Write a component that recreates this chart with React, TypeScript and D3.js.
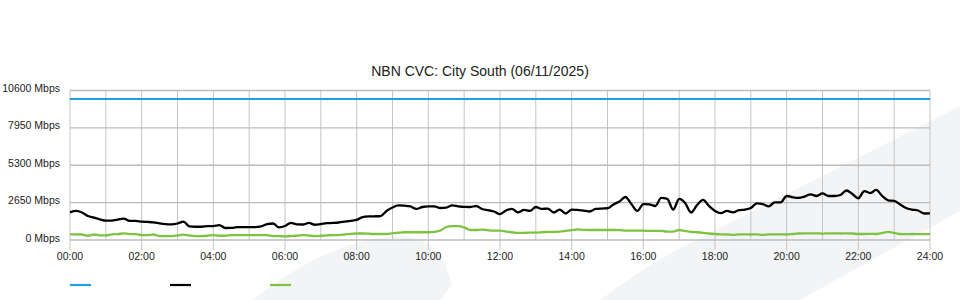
import React from "react";
import * as d3 from "d3";

// 10-minute samples, 00:00 .. 24:00
const capacity: number[] = new Array(145).fill(10000);

const traffic: number[] = [
  1960, 2060, 1950, 1700, 1590, 1470, 1370, 1380, 1450, 1520,
  1350, 1360, 1300, 1280, 1250, 1180, 1130, 1110, 1170, 1300,
  960, 940, 940, 980, 990, 1060, 850, 860, 910, 920,
  920, 920, 960, 1130, 1170, 890, 990, 1220, 1110, 1100,
  1210, 1080, 1130, 1190, 1210, 1240, 1300, 1360, 1420, 1630,
  1670, 1680, 1700, 2060, 2300, 2450, 2430, 2380, 2200, 2340,
  2380, 2380, 2270, 2300, 2450, 2390, 2350, 2340, 2410, 2200,
  2110, 2020, 1840, 2090, 2200, 1960, 2130, 2060, 2340, 2200,
  2230, 1950, 2160, 1880, 2160, 2130, 2090, 2020, 2200, 2230,
  2250, 2520, 2730, 3050, 2550, 2060, 2550, 2520, 2410, 2980,
  2910, 2160, 2910, 2620, 1950, 2480, 2840, 2410, 2060, 1910,
  2060, 1960, 2110, 2160, 2270, 2590, 2550, 2380, 2670, 2670,
  3120, 3030, 2980, 3080, 3240, 3120, 3300, 3120, 3120, 3190,
  3510, 3260, 2960, 3470, 3330, 3550, 3120, 2810, 2770, 2520,
  2270, 2160, 2090, 1880, 1890,
];

const upstream: number[] = [
  400, 400, 390, 300, 390, 330, 330, 400, 420, 470,
  420, 420, 350, 350, 390, 280, 280, 280, 320, 380,
  320, 280, 280, 300, 350, 300, 300, 340, 350, 350,
  350, 350, 350, 340, 280, 280, 250, 280, 300, 350,
  320, 280, 300, 330, 350, 350, 390, 440, 460, 460,
  450, 425, 425, 425, 475, 520, 550, 550, 550, 550,
  550, 570, 670, 920, 990, 990, 890, 710, 710, 740,
  690, 660, 660, 600, 550, 500, 510, 520, 520, 550,
  570, 580, 590, 640, 700, 760, 720, 710, 710, 710,
  710, 710, 700, 670, 660, 660, 660, 640, 640, 640,
  600, 600, 710, 640, 580, 550, 510, 460, 425, 400,
  390, 370, 400, 400, 390, 400, 370, 400, 400, 400,
  390, 425, 460, 475, 475, 475, 450, 475, 475, 460,
  475, 460, 425, 425, 440, 425, 500, 570, 510, 425,
  410, 425, 410, 410, 410,
];

const xTickLabels: string[] = [
  "00:00", "02:00", "04:00", "06:00", "08:00", "10:00", "12:00",
  "14:00", "16:00", "18:00", "20:00", "22:00", "24:00",
];
const yTickValues: number[] = [0, 2650, 5300, 7950, 10600];
const yTickLabels: string[] = ["0 Mbps", "2650 Mbps", "5300 Mbps", "7950 Mbps", "10600 Mbps"];
const hours: number[] = d3.range(0, 25);

const title = "NBN CVC: City South (06/11/2025)";
const seriesColors = ["#1ba1e2", "#000000", "#7fc241"];

export default function App() {
  const W = 960, H = 300;
  const x = d3.scaleLinear().domain([0, 24]).range([70, 930]);
  const y = d3.scaleLinear().domain([0, 10600]).range([240, 90.5]);
  const hourOf = (i: number) => (i * 10) / 60;
  const line = d3
    .line<number>()
    .x((_, i) => x(hourOf(i)))
    .y((d) => y(d))
    .curve(d3.curveMonotoneX);
  const series = [capacity, traffic, upstream];
  const font = "'Liberation Sans', Arial, sans-serif";

  return (
    <svg
      width={W}
      height={H}
      style={{ position: "absolute", left: 0, top: 0, background: "#fff" }}
      fontFamily={font}
    >
      {/* watermark */}
      <path
        d="M253,300 C290,270 340,240 395,236 C420,236 437,246 446,266 L452,285 L440,300 Z"
        fill="#f3f4f6"
      />
      <path d="M600,300 Q650,262 700,238 L960,106 L960,211 L800,300 Z" fill="#f3f4f6" />

      {/* vertical grid */}
      {hours.map((h) => (
        <line
          key={"v" + h}
          x1={x(h)}
          x2={x(h)}
          y1={y(10600)}
          y2={h % 2 === 0 ? 250 : 240}
          stroke="#c4c4c4"
          strokeWidth={1}
        />
      ))}
      {/* horizontal grid */}
      {yTickValues.map((v) => (
        <line
          key={"h" + v}
          x1={x(0)}
          x2={x(24)}
          y1={y(v)}
          y2={y(v)}
          stroke="#bcbcbc"
          strokeWidth={1.3}
        />
      ))}

      {/* series */}
      {series.map((s, k) => (
        <path
          key={"s" + k}
          d={line(s) || ""}
          fill="none"
          stroke={seriesColors[k]}
          strokeWidth={k === 0 ? 2 : 2.3}
          strokeLinejoin="round"
        />
      ))}

      {/* y labels */}
      {yTickValues.map((v, i) => (
        <text
          key={"yl" + v}
          x={60}
          y={y(v) + 1.5}
          textAnchor="end"
          fontSize={10.5}
          fill="#222"
        >
          {yTickLabels[i]}
        </text>
      ))}
      {/* x labels */}
      {xTickLabels.map((t, i) => (
        <text
          key={"xl" + t}
          x={x(i * 2)}
          y={259.5}
          textAnchor="middle"
          fontSize={10.5}
          fill="#222"
        >
          {t}
        </text>
      ))}

      {/* title */}
      <text x={480} y={75.5} textAnchor="middle" fontSize={14} fill="#222">
        {title}
      </text>

      {/* legend */}
      {seriesColors.map((c, k) => (
        <line
          key={"lg" + k}
          x1={70 + k * 100}
          x2={91 + k * 100}
          y1={285}
          y2={285}
          stroke={c}
          strokeWidth={2.2}
        />
      ))}
    </svg>
  );
}
